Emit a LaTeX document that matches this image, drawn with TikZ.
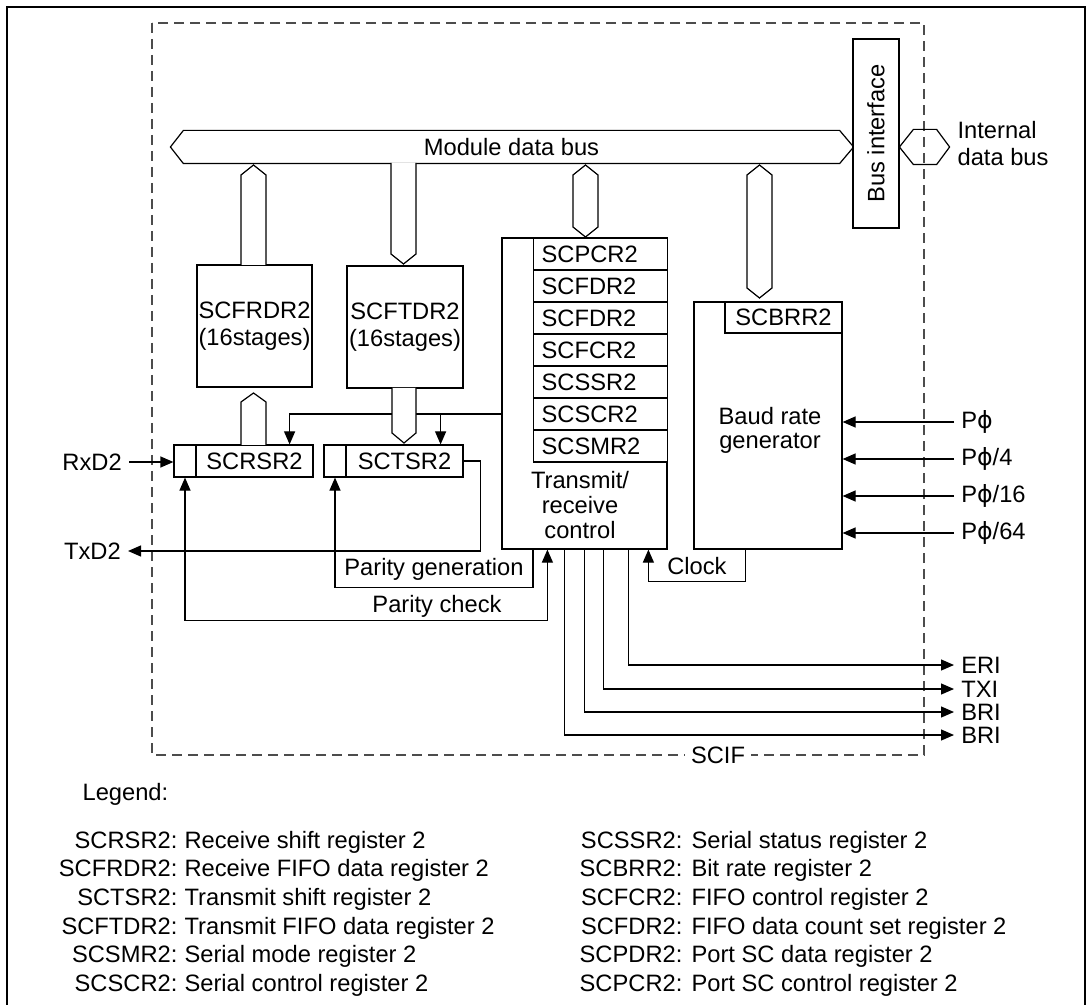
\documentclass[tikz,border=0pt]{standalone}
\usepackage{fontspec}
\setmainfont{Liberation Sans}
\newfontfamily\greekfont{DejaVu Sans}
\newcommand{\ph}{{\greekfont ϕ}}
\usetikzlibrary{arrows.meta,calc}

\begin{document}
\begin{tikzpicture}[x=0.5pt,y=-0.5pt,line width=0.6pt,
    font=\fontsize{11.85pt}{13.5pt}\selectfont,
    >={Triangle[length=6.5pt,width=5.5pt]},
    box/.style={draw,fill=white,inner sep=0pt,align=center},
    reg/.style={draw,fill=white,anchor=west,inner xsep=4pt,inner ysep=0pt,text width=59pt,align=left,minimum height=16pt},
    bus/.style={draw,fill=white,line join=miter},
    scifline/.style={draw=black!70,dash pattern=on 5pt off 3pt},
    leg/.style={inner sep=0pt}]
    \useasboundingbox (0,0) rectangle (1092,1005);
    % outer frame and SCIF module
    \draw[line width=1.1pt] (7,1015) -- (7,7) -- (1085,7) -- (1085,1015);
    \draw[scifline] (152,23) rectangle (924,755);
    \node[fill=white,inner xsep=3pt] (scif) at (718,755) {SCIF};
    % buses
    \node[inner sep=0pt,minimum width=327.5pt,minimum height=16pt] (mdb) at (511.5,147) {Module data bus};
    \draw[bus,fill=none] (mdb.north west) -- (mdb.north east) -- ([xshift=7pt]mdb.east) -- (mdb.south east)
      -- (mdb.south west) -- ([xshift=-6.5pt]mdb.west) -- cycle;
    \node[box,minimum width=94.5pt,minimum height=23pt,rotate=90] (busif) at (876,133.5) {Bus interface};
    \node[inner sep=0pt,minimum width=11pt,minimum height=17pt] (idb) at (925,147) {};
    \draw (idb.north west) -- (idb.north east) -- ([xshift=6.5pt]idb.east) -- (idb.south east)
      -- (idb.south west) -- ([xshift=-7pt]idb.west) -- cycle;
    \node[anchor=west,align=left,inner sep=3.5pt] (idbt) at (950,143.5) {Internal\\data bus};
    % FIFOs and shift registers
    \node[box,minimum width=57.5pt,minimum height=61pt] (frdr) at (254.5,326) {SCFRDR2\\(16stages)};
    \node[box,minimum width=58pt,minimum height=61pt] (ftdr) at (405,327) {SCFTDR2\\(16stages)};
    \node[box,minimum width=11pt,minimum height=16pt] (rsrl) at (185,461) {};
    \node[box,minimum width=58.5pt,minimum height=16pt] (rsr) at (254.5,461) {SCRSR2};
    \node[box,minimum width=11pt,minimum height=16pt] (tsrl) at (335,461) {};
    \node[box,minimum width=58.5pt,minimum height=16pt] (tsr) at (404.5,461) {SCTSR2};
    % transmit/receive control
    \node[box,minimum width=82.5pt,minimum height=155.5pt] (trc) at (584.5,393.5) {};
    \foreach \n/\t [count=\i from 0] in {pcr/SCPCR2,fdra/SCFDR2,fdrb/SCFDR2,fcr/SCFCR2,ssr/SCSSR2,scr/SCSCR2,smr/SCSMR2}
      \node[reg] (\n) at (533,{254+32*\i}) {\t};
    \node[align=center,font=\fontsize{11.85pt}{12.5pt}\selectfont] (trct) at (580,505) {Transmit/\\receive\\control};
    % baud rate generator
    \node[box,minimum width=74pt,minimum height=123.5pt] (brg) at (768,425.5) {};
    \node[box,minimum width=58.5pt,minimum height=15.5pt] (brr) at (783.5,317.5) {SCBRR2};
    \node[align=center,font=\fontsize{11.85pt}{12pt}\selectfont] (brgt) at (770,430) {Baud rate\\generator};
    % internal control lines
    \coordinate (ctl) at (trc.west |- scr.center);
    \draw[->] (ctl) -| ([xshift=-12pt]rsr.north east);
    \draw[->] ([xshift=-11.5pt]tsr.north east |- ctl) -- ([xshift=-11.5pt]tsr.north east);
    % bus connectors
    \draw[bus] (241,265) -- (241,175) -- (253.5,165) -- (266,175) -- (266,265);
    \draw[bus] (391,163) -- (391,254) -- (403.5,264) -- (416,254) -- (416,163);
    \draw[bus] (573,175) -- (585.5,165) -- (598,175) -- (598,227) -- (585.5,237) -- (573,227) -- cycle;
    \draw[bus] (747,175) -- (759.5,165) -- (772,175) -- (772,288) -- (759.5,298) -- (747,288) -- cycle;
    \draw[bus] (241,445) -- (241,402) -- (253.5,393) -- (266,402) -- (266,445);
    \draw[bus] (392,388) -- (392,433) -- (404,443) -- (416,433) -- (416,388);
    % serial pins
    \node[anchor=east] (rxd) at (129,462) {RxD2};
    \node[anchor=east] (txd) at (128,551) {TxD2};
    \draw[->] (rxd.east) -- (rxd.east -| rsrl.west);
    \draw[->] (tsr.east) -- ++(8.5pt,0) |- (txd.east);
    % parity
    \draw[->] (pcr.west |- trc.south) -- ++(0,-19pt) -| node[pos=0.25,above] (pgen) {Parity generation} (tsrl.south);
    \coordinate (pchk) at ($(trc.south west)+(23pt,-35.5pt)$);
    \draw[<->] (rsrl.south) |- (pchk) -- (pchk |- trc.south);
    \node (pchkt) at (437,606) {Parity check};
    % clock
    \coordinate (clk) at ($(trc.south west)+(73.5pt,-16pt)$);
    \draw[->] ([xshift=26pt]brg.south west) |- node[pos=0.75,above] (clkt) {Clock} (clk) -- (clk |- trc.south);
    % clock inputs
    \node[anchor=west] (pa) at (954,422) {P\ph};
    \node[anchor=west] (pb) at (954,459) {P\ph/4};
    \node[anchor=west] (pc) at (954,496) {P\ph/16};
    \node[anchor=west] (pd) at (954,533) {P\ph/64};
    \foreach \n in {pa,pb,pc,pd} \draw[->] (\n.west) -- (\n.west -| brg.east);
    % interrupt requests
    \node[anchor=west] (eri) at (954,665) {ERI};
    \node[anchor=west] (txi) at (954,689) {TXI};
    \node[anchor=west] (bri) at (954,712) {BRI};
    \node[anchor=west] (brib) at (954,735) {BRI};
    \foreach \n/\dx in {eri/63.5,txi/51,bri/41.5,brib/31.5}
      \draw[->] ([xshift=\dx pt]trc.south west) |- (\n.west);
    % legend
    \node[leg,anchor=base west] (legend) at (82,800) {Legend:};
    \foreach \r/\t [count=\i from 0] in {SCRSR2/Receive shift register 2,SCFRDR2/Receive FIFO data register 2,
        SCTSR2/Transmit shift register 2,SCFTDR2/Transmit FIFO data register 2,
        SCSMR2/Serial mode register 2,SCSCR2/Serial control register 2}
      {\node[leg,anchor=base east] (la\i) at (178,{848+28.7*\i}) {\r:};
       \node[leg,anchor=base west] (lb\i) at (184,{848+28.7*\i}) {\t};}
    \foreach \r/\t [count=\i from 0] in {SCSSR2/Serial status register 2,SCBRR2/Bit rate register 2,
        SCFCR2/FIFO control register 2,SCFDR2/FIFO data count set register 2,
        SCPDR2/Port SC data register 2,SCPCR2/Port SC control register 2}
      {\node[leg,anchor=base east] (ra\i) at (683,{848+28.7*\i}) {\r:};
       \node[leg,anchor=base west] (rb\i) at (691,{848+28.7*\i}) {\t};}
  \end{tikzpicture}
\end{document}
